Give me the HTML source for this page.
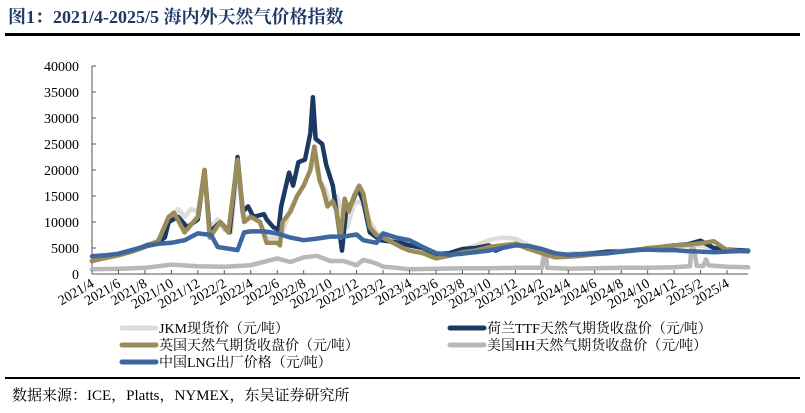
<!DOCTYPE html>
<html><head><meta charset="utf-8">
<style>
html,body{margin:0;padding:0;background:#fff;}
body{width:805px;height:413px;overflow:hidden;position:relative;font-family:"Liberation Serif","Noto Serif CJK SC",serif;}
.title{position:absolute;left:8px;top:3px;font-size:18px;font-weight:bold;color:#1f3864;font-family:"Liberation Serif","Noto Serif CJK SC",serif;}
.rule{position:absolute;left:5px;width:795px;height:3px;background:#000;}
.src{position:absolute;left:12px;top:384px;font-size:15px;color:#000;}
</style></head>
<body>
<div class="title">图1：2021/4-2025/5 海内外天然气价格指数</div>
<div class="rule" style="top:33px"></div>
<svg id="chart" width="805" height="413" style="position:absolute;left:0;top:0"></svg>
<div class="rule" style="top:377px;height:2px"></div>
<div class="src">数据来源：ICE，Platts，NYMEX，东吴证券研究所</div>
<script>
// months since 2021/4
const tickLabels=["2021/4","2021/6","2021/8","2021/10","2021/12","2022/2","2022/4","2022/6","2022/8","2022/10","2022/12","2023/2","2023/4","2023/6","2023/8","2023/10","2023/12","2024/2","2024/4","2024/6","2024/8","2024/10","2024/12","2025/2","2025/4"];
const yTicks=[0,5000,10000,15000,20000,25000,30000,35000,40000];
const jkmM=[0,1,2,3,4,5,5.8,6.5,7,7.5,8,8.5,8.9,9.5,10,10.5,11,11.4,12,12.7,13.2,14,14.4,15,15.5,16,16.5,16.8,17.2,17.6,18,18.5,18.9,19.3,19.8,20.2,20.6,21,21.5,22,23,24,25,26,27,28,29,30,31,32,33,34,35,36,37,38,39,40,41,42,43,44,45,46,47,48,49.6];
const jkmV=[2600,3000,3700,4300,5200,6500,10500,12500,11000,12500,12000,19000,9000,10500,8500,8000,20500,11000,11000,10000,7000,7000,8000,12500,15000,17000,20000,22000,18000,16500,13500,15000,12000,9000,13500,14000,13000,10000,8000,7000,6500,5500,5000,4000,4000,4700,5500,6500,7000,6800,5500,4500,3700,3900,4000,4200,4300,4500,4600,4700,5000,5300,5500,5500,5000,4600,4500];
const ttfM=[0,1,2,3,4,5,5.5,5.8,6.5,7.2,8,8.5,8.9,9.7,10.4,11,11.4,11.8,12.2,13,13.2,13.7,14.1,14.3,14.9,15.2,15.6,16.1,16.5,16.7,16.9,17.4,17.7,18.2,18.6,18.9,19.2,19.7,20.1,20.5,21,21.8,23.3,24,25,26,27,28,29,30,30.5,31,32,33,34,35,36,37,38,39,40,41,42,43,44,45,46,47,48,49.6];
const ttfV=[2500,3200,3700,4300,5400,6200,7000,10000,11000,9000,10500,20000,8000,10000,8000,22500,12000,13000,11000,11500,10500,9000,8500,13000,19500,17000,21500,22000,27000,34000,26000,25000,21000,17000,10000,4500,12000,14000,16500,14000,8000,6500,6000,5500,5000,3800,4000,4800,5000,5500,4500,5000,5800,5000,4500,3500,3700,3800,4000,4300,4300,4600,4900,5200,5500,5700,6400,5000,4700,4500];
const ukM=[0,1,2,3,4,5,5.8,6.2,7,7.5,8,8.5,8.9,9.7,10.3,11,11.5,12,12.7,13.2,14,14.2,14.4,15,15.5,16,16.5,16.8,17.2,17.5,17.8,18.2,18.5,18.8,19.1,19.4,19.8,20.2,20.5,21,21.5,22,23.5,24,25,26,27,28,29,30,31,32,33,34,35,36,37,38,39,40,41,42,43,44,45,46,47,48,49.6];
const ukV=[2500,3100,3600,4300,5200,6300,11000,11800,8000,9500,11000,20000,7000,10000,8000,22000,10000,11000,10000,6000,6000,5500,10000,12000,15000,17000,20000,24500,18000,16000,13000,14000,12000,7000,14500,12000,15000,17000,15500,9000,7500,7000,5000,4500,4000,3000,3500,4200,4500,5200,5500,5800,4800,4000,3200,3300,3500,3800,4000,4300,4500,5000,5200,5500,5600,5900,6300,4600,4300,4200];
const hhM=[0,2,4,6,8,10,12,14,15,16,17,17.5,18,19,20,20.5,21,21.5,22,23,24,26,28,30,32,34,34.2,34.3,34.4,36,38,40,42,44,45.2,45.3,45.5,45.7,46.2,46.4,46.6,47,48,49.6];
const hhV=[900,1000,1200,1800,1500,1400,1700,3000,2300,3200,3500,3000,2500,2500,1700,2700,2400,2000,1400,1200,900,1000,1100,1100,1200,1200,4500,4500,1200,1000,1100,1200,1200,1300,1500,4800,4800,1600,1500,2800,1700,1600,1400,1300];
const lngM=[0,1,2,3,4,5,6,7,8,9,9.5,10,11,11.5,12,13,14,15,16,17,18,19,20,20.5,21.5,22,23,24,25,26,27,28,29,30,31,32,33,34,35,36,37,38,39,40,41,42,43,44,45,46,47,48,49.6];
const lngV=[3400,3600,3900,4600,5300,5800,6000,6500,7800,7500,5200,5000,4600,8000,8200,8200,7800,7000,6500,6800,7200,7200,7600,6500,6000,7800,7000,6500,5200,4000,3700,3900,4200,4500,5000,5500,5400,4800,4000,3700,3800,3900,4000,4300,4600,4700,4600,4600,4400,4300,4200,4300,4500];

const X0=92,XM=13.23,Y0=274,YS=208/40000;
const xs=m=>X0+m*XM, ys=v=>Y0-v*YS;
const svg=document.getElementById('chart');
const NS='http://www.w3.org/2000/svg';
function mk(tag,attrs,parent){const e=document.createElementNS(NS,tag);for(const k in attrs)e.setAttribute(k,attrs[k]);(parent||svg).appendChild(e);return e;}
const font='"Liberation Serif","Noto Serif CJK SC",serif';
mk('line',{x1:X0,y1:ys(40000),x2:X0,y2:Y0,stroke:'#555','stroke-width':1});
yTicks.forEach(v=>{
  const t=mk('line',{x1:X0,y1:ys(v),x2:X0+4,y2:ys(v),stroke:'#555'});
  
  
  const l=mk('text',{x:79,y:ys(v)+5,'text-anchor':'end','font-size':14,'font-family':font,fill:'#000'});
  l.textContent=v;
  
  
});
function series(M,V,color,name,w){
  const d=M.map((m,i)=>(i?'L':'M')+xs(m).toFixed(1)+','+ys(V[i]).toFixed(1)).join(' ');
  const p=mk('path',{d:d,fill:'none',stroke:color,'stroke-width':w||4.5,'stroke-linejoin':'round','stroke-linecap':'round'});
  
  
}
series(jkmM,jkmV,'#dcdcdc','jkm-line');
series(hhM,hhV,'#b8b8b8','hh-line');
series(ttfM,ttfV,'#1b3a63','ttf-line');
series(ukM,ukV,'#9a8c58','uk-line');
series(lngM,lngV,'#3e679f','lng-line');
mk('line',{x1:X0,y1:Y0,x2:748,y2:Y0,stroke:'#555'});
tickLabels.forEach((s,i)=>{
  const x=xs(i*2);
  const t=mk('line',{x1:x,y1:Y0,x2:x,y2:Y0-4,stroke:'#555'});
  
  
  const l=mk('text',{x:x+3,y:Y0+12,'text-anchor':'end','font-size':14,'font-family':font,transform:`rotate(-30 ${x+3} ${Y0+12})`});
  l.textContent=s;
  
  
});
const legend=[["JKM现货价（元/吨）",'#dcdcdc',120,328],["荷兰TTF天然气期货收盘价（元/吨）",'#1b3a63',448,328],["英国天然气期货收盘价（元/吨）",'#9a8c58',120,345],["美国HH天然气期货收盘价（元/吨）",'#b8b8b8',448,345],["中国LNG出厂价格（元/吨）",'#3e679f',120,362]];
legend.forEach(([txt,c,x,y])=>{
  const g=mk('g',{});
  
  
  mk('line',{x1:x+2,y1:y,x2:x+36,y2:y,stroke:c,'stroke-width':5,'stroke-linecap':'round'},g);
  const t=mk('text',{x:x+39,y:y+5,'font-size':14,'font-family':font},g);
  t.textContent=txt;
});
</script>
</body></html>
